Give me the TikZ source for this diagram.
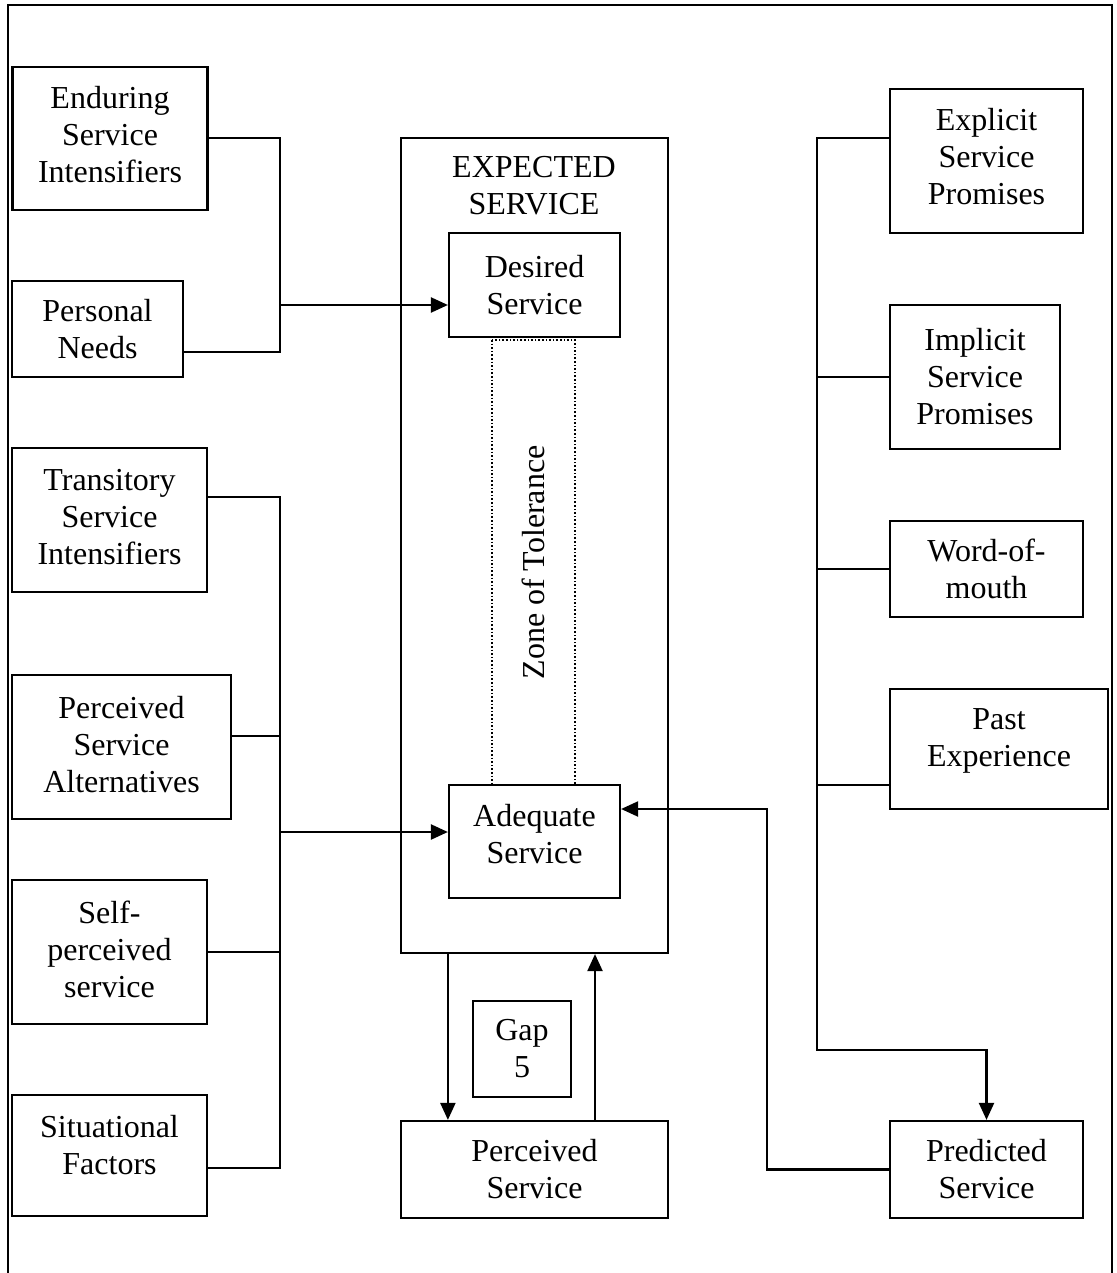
\documentclass[tikz,border=0pt]{standalone}
\usepackage{fontspec}
\setmainfont{Liberation Serif}
\usepackage{tikz}
\usetikzlibrary{arrows.meta,positioning,calc}

\begin{document}
\begin{tikzpicture}[x=0.5pt,y=-0.5pt,
    box/.style={draw,line width=1.1pt,align=center,inner sep=0pt,font=\fontsize{16}{18.5}\selectfont},
    link/.style={line width=1.1pt},
    arrow/.style={line width=1.1pt,-{Triangle[length=8.5pt,width=7.5pt]}}]
  \useasboundingbox (0,0) rectangle (1116,1273);
  % frame
  \draw[line width=1.1pt] (8,1273) -- (8,5) -- (1112,5) -- (1112,1273);

  % left column
  \node[box,minimum width=97.5pt,minimum height=71.5pt,text depth=4pt] (endur) at (110,138.5) {Enduring\\Service\\Intensifiers};
  \node[box,minimum width=85.5pt,minimum height=48pt] (pneeds) at (97.5,329) {Personal\\Needs};
  \node[box,minimum width=97.5pt,minimum height=72pt,text depth=3pt] (trans) at (109.5,520) {Transitory\\Service\\Intensifiers};
  \node[box,minimum width=109.5pt,minimum height=72pt,text depth=3pt] (alter) at (121.5,747) {Perceived\\Service\\Alternatives};
  \node[box,minimum width=97.5pt,minimum height=72pt,text depth=3pt] (self) at (109.5,952) {Self-\\perceived\\service};
  \node[box,minimum width=97.5pt,minimum height=60.5pt,text depth=11pt] (situ) at (109.5,1155.5) {Situational\\Factors};

  % expected service
  \node[box,minimum width=133.5pt,minimum height=407.5pt] (expected) at (534.5,545.5) {};
  \node[font=\fontsize{16}{18.5}\selectfont,align=center] (exptitle) at (534,186) {EXPECTED\\SERVICE};
  \node[box,minimum width=85.5pt,minimum height=52pt] (desired) at (534.5,285) {Desired\\Service};
  \node[draw,densely dotted,line width=0.8pt,rotate=90,minimum width=222.5pt,minimum height=41.5pt,inner sep=0pt,font=\fontsize{16}{18.5}\selectfont] (zone) at (533.5,562.5) {Zone of Tolerance};
  \node[box,minimum width=85.5pt,minimum height=56.5pt,text depth=8pt] (adequate) at (534.5,841.5) {Adequate\\Service};
  \node[box,minimum width=133.5pt,minimum height=48.5pt] (perceived) at (534.5,1169.5) {Perceived\\Service};
  \node[box,minimum width=49pt,minimum height=48pt] (gap) at (522,1049) {Gap\\5};

  % right column
  \node[box,minimum width=96.5pt,minimum height=72pt,text depth=5pt] (explicit) at (986.5,161) {Explicit\\Service\\Promises};
  \node[box,minimum width=85pt,minimum height=72pt] (implicit) at (975,377) {Implicit\\Service\\Promises};
  \node[box,minimum width=96.5pt,minimum height=48pt] (wom) at (986.5,569) {Word-of-\\mouth};
  \node[box,minimum width=109pt,minimum height=60pt,text depth=11pt] (past) at (999,749) {Past\\Experience};
  \node[box,minimum width=96.5pt,minimum height=48.5pt] (predicted) at (986.5,1169.5) {Predicted\\Service};

  % junctions
  \coordinate (jl1) at (280,305);
  \coordinate (jl2) at (280,832);
  \coordinate (trunk) at (817,138);
  \coordinate (rbend) at (817,1050);
  \coordinate (pbend) at (767,809);

  % left connectors
  \draw[link] (endur.east |- 0,138) -| (280,352) -- (pneeds.east |- 0,352);
  \draw[arrow] (jl1) -- (desired.west |- jl1);
  \draw[link] (trans.east |- 0,497) -| (280,1168) -- (situ.east |- 0,1168);
  \draw[link] (alter.east |- 0,736) -- (280,736);
  \draw[link] (self.east) -- (self.east -| jl2);
  \draw[arrow] (jl2) -- (adequate.west |- jl2);

  % gap 5
  \draw[arrow] (expected.south -| desired.west) -- (perceived.north -| desired.west);
  \draw[arrow] ([xshift=30.25pt]perceived.north) -- ([xshift=30.25pt]expected.south);

  % right connectors
  \draw[arrow] (explicit.west |- trunk) -- (trunk) -- (rbend) -| (predicted.north);
  \draw[link] (implicit.west) -- (implicit.west -| trunk);
  \draw[link] (wom.west) -- (wom.west -| trunk);
  \draw[link] (past.west |- 0,785) -- (trunk |- 0,785);
  \draw[arrow] (predicted.west) -| (pbend) -- (adequate.east |- pbend);
\end{tikzpicture}
\end{document}
